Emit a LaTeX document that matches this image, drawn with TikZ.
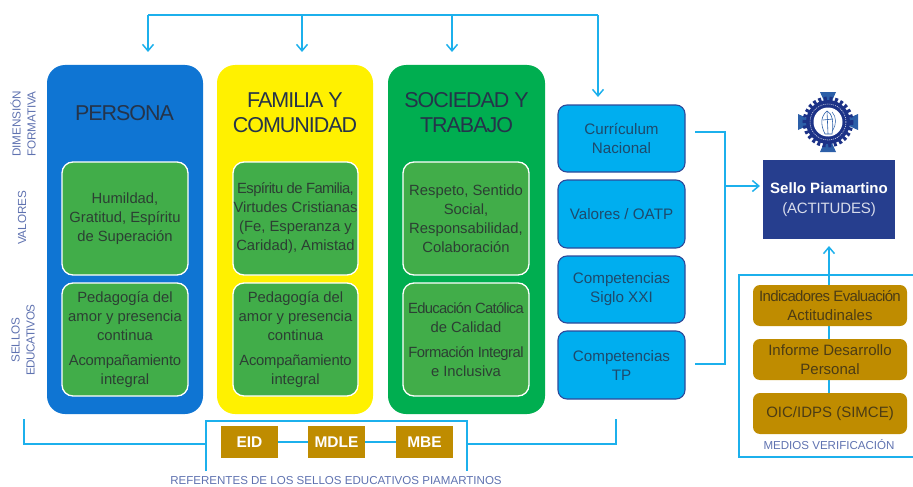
\documentclass[tikz,border=0pt]{standalone}
\usepackage{fontspec}
\setmainfont{Liberation Sans}
\usetikzlibrary{arrows.meta}
\definecolor{wire}{HTML}{1CB0EC}
\definecolor{bluecol}{HTML}{0F75D3}
\definecolor{yellowcol}{HTML}{FFF100}
\definecolor{greencol}{HTML}{00AE50}
\definecolor{innergreen}{HTML}{41AD49}
\definecolor{cyanbox}{HTML}{00AEEF}
\definecolor{cyanedge}{HTML}{2E4A9A}
\definecolor{gold}{HTML}{BF8C00}
\definecolor{navy}{HTML}{263E8E}
\definecolor{labelblue}{HTML}{5F72B0}
\definecolor{inktext}{HTML}{2C3F33}
\definecolor{titletext}{HTML}{25344A}
\definecolor{cyantext}{HTML}{1E4A6C}
\definecolor{goldtext}{HTML}{4C3C14}
\definecolor{logoarm}{HTML}{2C5FA8}
\definecolor{logogear}{HTML}{1C3287}
\tikzset{
  x=1pt,y=-1pt,
  box/.style={inner sep=0pt,outer sep=0pt,anchor=north west,align=center},
  column/.style={box,rounded corners=18pt},
  inner/.style={box,draw=white,line width=1.3pt,fill=innergreen,rounded corners=11pt,text=inktext,
     font=\fontsize{14.8}{19}\selectfont},
  title/.style={align=center,text=titletext,inner sep=0pt,font=\fontsize{21.5}{25}\selectfont\addfontfeature{LetterSpace=-4.8}},
  cyanb/.style={box,draw=cyanedge,line width=1.1pt,fill=cyanbox,rounded corners=9pt,text=cyantext,
     minimum width=127pt,font=\fontsize{15.2}{19}\selectfont},
  goldb/.style={box,fill=gold,rounded corners=7pt,text=goldtext,minimum width=154pt,minimum height=41pt,
     font=\fontsize{15}{19}\selectfont},
  refb/.style={box,fill=gold,text=white,minimum width=57pt,minimum height=32pt,font=\fontsize{15.5}{17}\selectfont\bfseries},
  sidelabel/.style={rotate=90,align=center,text=labelblue,inner sep=0pt,font=\fontsize{11.7}{15}\selectfont\addfontfeature{LetterSpace=-1}},
  caption/.style={text=labelblue,inner sep=0pt,font=\fontsize{11.55}{14}\selectfont},
  wireline/.style={draw=wire,line width=1.5pt},
  wirearrow/.style={wireline,-{Straight Barb[length=6.5pt,width=11pt,line width=1.5pt]}},
}
\begin{document}
\begin{tikzpicture}
\useasboundingbox (0,0) rectangle (913,487);
% wires behind boxes
\coordinate (topL) at (148,15);
\coordinate (topA) at (302,15);
\coordinate (topB) at (452,15);
\coordinate (topR) at (598,15);
\coordinate (endA) at (148,52);
\coordinate (endB) at (302,52);
\coordinate (endC) at (452,52);
\coordinate (endD) at (598,97);
\draw[wireline] (topL) -- (topR);
\draw[wirearrow] (topL) -- (endA);
\draw[wirearrow] (topA) -- (endB);
\draw[wirearrow] (topB) -- (endC);
\draw[wirearrow] (topR) -- (endD);
% columns
\node[column,fill=bluecol,minimum width=156pt,minimum height=349pt] (persona) at (47,65) {};
\node[column,fill=yellowcol,minimum width=156pt,minimum height=349pt] (familia) at (217,65) {};
\node[column,fill=greencol,minimum width=157pt,minimum height=349pt] (sociedad) at (388,65) {};
\node[title] (tp) at (124.5,113.5) {PERSONA};
\node[title] (tf) at (295,113) {FAMILIA Y\\COMUNIDAD};
\node[title] (ts) at (466.5,113) {SOCIEDAD Y\\TRABAJO};
% inner boxes
\node[inner,minimum width=126pt,minimum height=113pt] (v1) at (62,162) {Humildad,\\Gratitud, Espíritu\\de Superación};
\node[inner,minimum width=125pt,minimum height=113pt] (v2) at (233,162) {\addfontfeature{LetterSpace=-4}Espíritu de Familia,\\Virtudes Cristianas\\(Fe, Esperanza y\\Caridad), Amistad};
\node[inner,minimum width=126pt,minimum height=113pt] (v3) at (403,162) {Respeto, Sentido\\Social,\\Responsabilidad,\\Colaboración};
\node[inner,minimum width=126pt,minimum height=113pt] (s1) at (62,283) {Pedagogía del\\amor y presencia\\continua\\[6pt]\addfontfeature{LetterSpace=-1.5}Acompañamiento\\integral};
\node[inner,minimum width=125pt,minimum height=113pt] (s2) at (233,283) {Pedagogía del\\amor y presencia\\continua\\[6pt]\addfontfeature{LetterSpace=-1.5}Acompañamiento\\integral};
\node[inner,minimum width=126pt,minimum height=113pt] (s3) at (403,283) {\addfontfeature{LetterSpace=-4.6}Educación Católica\\de Calidad\\[6pt]\addfontfeature{LetterSpace=-3.4}Formación Integral\\e Inclusiva};
% side labels
\node[sidelabel] (l1) at (23,124) {DIMENSIÓN\\FORMATIVA};
\node[sidelabel] (l2) at (22,218) {VALORES};
\node[sidelabel] (l3) at (23,340) {SELLOS\\\addfontfeature{LetterSpace=-4}EDUCATIVOS};
% cyan boxes
\node[cyanb,minimum height=67pt] (c1) at (558,105) {Currículum\\Nacional};
\node[cyanb,minimum height=68pt] (c2) at (558,180) {Valores / OATP};
\node[cyanb,minimum height=67pt] (c3) at (558,256) {Competencias\\Siglo XXI};
\node[cyanb,minimum height=68pt] (c4) at (558,331) {Competencias\\TP};
% seal
\node[box,fill=navy,text=white,minimum width=132pt,minimum height=79pt,font=\fontsize{15}{19.5}\selectfont] (sello) at (763,160)
  {{\bfseries Sello Piamartino}\\{\color{white!82!navy}\addfontfeature{LetterSpace=-1}(ACTITUDES)}};
\coordinate (c1out) at (695,132);
\coordinate (c4out) at (695,364);
\coordinate (bus1) at (725,132);
\coordinate (bus2) at (725,364);
\coordinate (busmid) at (725,186);
\coordinate (selloin) at (760,186);
\draw[wireline,line join=miter] (c1out) -- (bus1) -- (bus2) -- (c4out);
\draw[wirearrow] (busmid) -- (selloin);
% logo
\begin{scope}[shift={(828,122)}]
  \foreach \a in {0,90,180,270}{
    \fill[logoarm,rotate=\a] (-3.5,-20) -- (3.5,-20) -- (8,-30) -- (-8,-30) -- cycle;
  }
  \draw[logogear,line width=4pt,dash pattern=on 3pt off 2.6pt] (0,0) circle (23.5);
  \fill[logogear] (0,0) circle (22);
  \fill[white] (0,0) circle (14.5);
  \draw[white,line width=.5pt,dash pattern=on 1pt off 1pt] (0,0) circle (18);
  \draw[logoarm,line width=.6pt] (-3,12) .. controls (-8,2) and (-7,-6) .. (-1,-11) .. controls (4,-9) and (6,0) .. (4,12) -- cycle;
  \draw[logoarm,line width=.6pt] (-1,-11) -- (0,12) (-5,-2) -- (5,-3);
  \draw[logoarm,line width=.5pt] (4,-10) .. controls (9,-5) and (8,3) .. (5,8);
\end{scope}
% verification frame
\coordinate (frameTL) at (739,275);
\coordinate (frameBL) at (739,457);
\coordinate (frameTR) at (913,275);
\coordinate (frameBR) at (913,457);
\coordinate (frameTop) at (829,275);
\coordinate (selloUp) at (829,246);
\coordinate (lineB) at (829,393);
\draw[wireline,line join=miter] (frameTR) -- (frameTL) -- (frameBL) -- (frameBR);
\draw[wirearrow] (frameTop) -- (selloUp);
\draw[wireline] (frameTop) -- (lineB);
\node[goldb] (g1) at (753,285) {\addfontfeature{LetterSpace=-4.5}Indicadores Evaluación\\Actitudinales};
\node[goldb] (g2) at (753,339) {Informe Desarrollo\\Personal};
\node[goldb] (g3) at (753,393) {OIC/IDPS (SIMCE)};
\node[caption] (mv) at (829,445) {MEDIOS VERIFICACIÓN};
% referents
\coordinate (bl1) at (24,419);
\coordinate (bl2) at (24,444);
\coordinate (bl3) at (206,444);
\coordinate (fl1) at (206,471);
\coordinate (fl2) at (206,421);
\coordinate (fr2) at (467,421);
\coordinate (fr1) at (467,471);
\coordinate (br1) at (467,444);
\coordinate (br2) at (616,444);
\coordinate (br3) at (616,419);
\draw[wireline,line join=miter] (bl1) -- (bl2) -- (bl3);
\draw[wireline,line join=miter] (fl1) -- (fl2) -- (fr2) -- (fr1);
\draw[wireline,line join=miter] (br1) -- (br2) -- (br3);
\node[refb] (eid) at (221,426) {EID};
\node[refb] (mdle) at (308,426) {MDLE};
\node[refb] (mbe) at (396,426) {MBE};
\draw[wireline] (eid) -- (mdle);
\draw[wireline] (mdle) -- (mbe);
\node[caption] (ref) at (336,481) {REFERENTES DE LOS SELLOS EDUCATIVOS PIAMARTINOS};
\end{tikzpicture}
\end{document}
